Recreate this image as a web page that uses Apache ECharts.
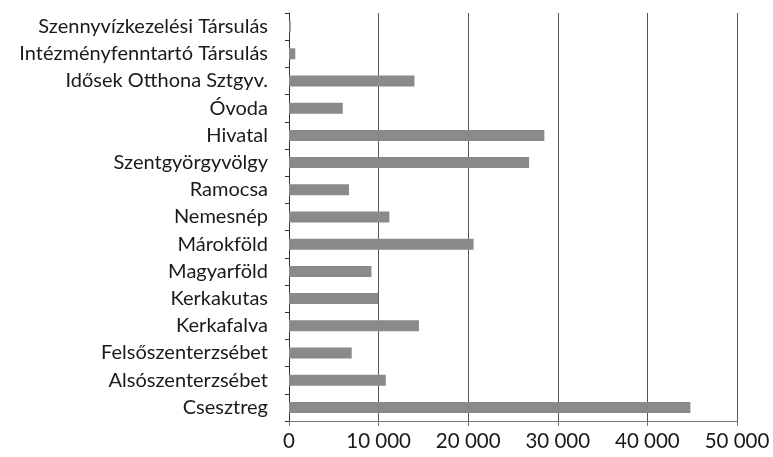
<!DOCTYPE html>
<html>
<head>
<meta charset="utf-8">
<script src="https://cdn.jsdelivr.net/npm/echarts@6/dist/echarts.min.js"></script>
<style>
  html, body { margin: 0; padding: 0; background: #fff; }
  #chart { width: 773px; height: 457px; }
</style>
</head>
<body>
<div id="chart"></div>
<script>
// kategóriák alulról felfelé (ECharts y kategória tengely így rajzol)
var categories = [
  'Csesztreg', 'Alsószenterzsébet', 'Felsőszenterzsébet', 'Kerkafalva', 'Kerkakutas',
  'Magyarföld', 'Márokföld', 'Nemesnép', 'Ramocsa', 'Szentgyörgyvölgy',
  'Hivatal', 'Óvoda', 'Idősek Otthona Sztgyv.', 'Intézményfenntartó Társulás',
  'Szennyvízkezelési Társulás'
]
var values = [
  44800, 10800, 7000, 14500, 9950,
  9200, 20600, 11200, 6700, 26800,
  28500, 6000, 14000, 700,
  200
]
var xMax = 50000
var xStep = 10000

var chart = echarts.init(document.getElementById('chart'))
chart.setOption({
  backgroundColor: '#fff',
  animation: false,
  grid: {
    left: 289,
    right: 36,
    top: 13,
    bottom: 36
  },
  xAxis: {
    type: 'value',
    min: 0,
    max: xMax,
    interval: xStep,
    axisLine: { show: true, lineStyle: { color: '#777', width: 1 } },
    axisTick: { show: true, length: 5, lineStyle: { color: '#777' } },
    splitLine: { show: true, lineStyle: { color: '#555', width: 1 } },
    axisLabel: {
      color: '#1a1a1a',
      fontFamily: 'Lato',
      fontSize: 20.5,
      margin: 10,
      formatter: function(v) {
        return String(v).replace(/\B(?=(\d{3})+(?!\d))/g, ' ')
      }
    }
  },
  yAxis: {
    type: 'category',
    data: categories,
    axisLine: { show: true, lineStyle: { color: '#333', width: 1 } },
    axisTick: { show: true, length: 4, lineStyle: { color: '#333' } },
    splitLine: { show: false },
    axisLabel: {
      interval: 0,
      color: '#1a1a1a',
      fontFamily: 'Lato',
      fontSize: 20,
      margin: 21
    }
  },
  series: [{
    type: 'bar',
    data: values,
    barWidth: 11,
    itemStyle: { color: '#8a8a8a' }
  }]
})
</script>
</body>
</html>
